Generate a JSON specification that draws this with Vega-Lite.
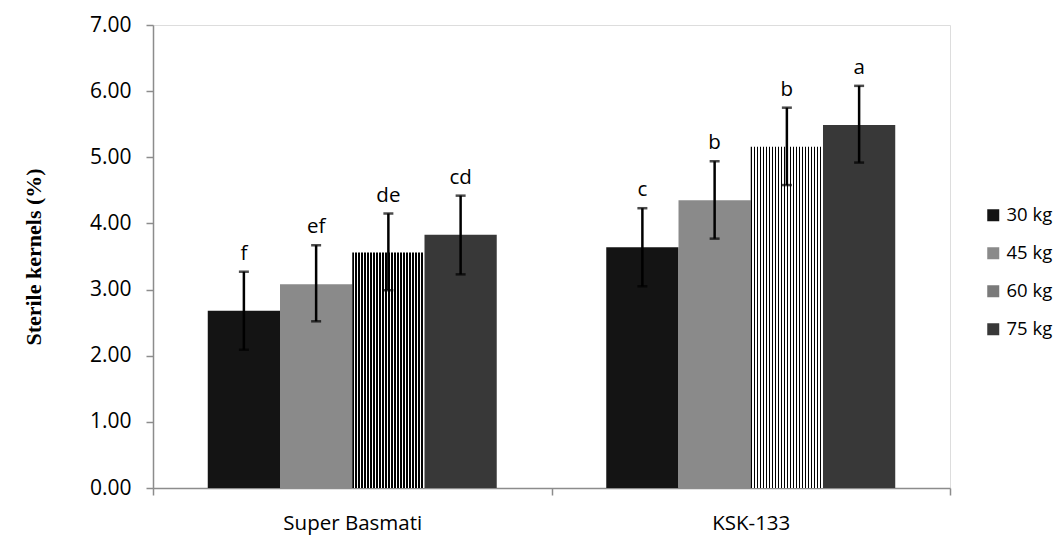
{
  "$schema": "https://vega.github.io/schema/vega-lite/v6.json",
  "width": 797,
  "height": 463,
  "autosize": {"type": "none"},
  "padding": {"left": 153, "top": 25, "right": 109, "bottom": 47},
  "background": "white",
  "data": {
    "values": [
      {"variety": "Super Basmati", "dose": "30 kg", "mean": 2.68, "lo": 2.09, "hi": 3.27, "letter": "f"},
      {"variety": "Super Basmati", "dose": "45 kg", "mean": 3.08, "lo": 2.52, "hi": 3.67, "letter": "ef"},
      {"variety": "Super Basmati", "dose": "60 kg", "mean": 3.56, "lo": 2.99, "hi": 4.15, "letter": "de"},
      {"variety": "Super Basmati", "dose": "75 kg", "mean": 3.83, "lo": 3.23, "hi": 4.42, "letter": "cd"},
      {"variety": "KSK-133", "dose": "30 kg", "mean": 3.64, "lo": 3.05, "hi": 4.23, "letter": "c"},
      {"variety": "KSK-133", "dose": "45 kg", "mean": 4.35, "lo": 3.77, "hi": 4.94, "letter": "b"},
      {"variety": "KSK-133", "dose": "60 kg", "mean": 5.16, "lo": 4.58, "hi": 5.75, "letter": "b"},
      {"variety": "KSK-133", "dose": "75 kg", "mean": 5.49, "lo": 4.92, "hi": 6.08, "letter": "a"}
    ]
  },
  "encoding": {
    "x": {
      "field": "variety",
      "type": "nominal",
      "sort": ["Super Basmati", "KSK-133"],
      "scale": {"paddingInner": 0, "paddingOuter": 0},
      "axis": {
        "title": null,
        "labelAngle": 0,
        "labelFont": "Open Sans",
        "labelFontSize": 20.5,
        "labelColor": "#000000",
        "labelPadding": 18,
        "tickBand": "extent",
        "tickSize": 7,
        "tickColor": "#8c8c8c",
        "domainColor": "#8c8c8c",
        "domainWidth": 1.5,
        "tickWidth": 1.5
      }
    },
    "xOffset": {
      "field": "dose",
      "type": "nominal",
      "sort": ["30 kg", "45 kg", "60 kg", "75 kg"],
      "scale": {"paddingInner": 0, "paddingOuter": 0.758}
    }
  },
  "layer": [
    {
      "mark": {"type": "bar"},
      "encoding": {
        "y": {
          "field": "mean",
          "type": "quantitative",
          "scale": {"domain": [0, 7], "nice": false},
          "axis": {
            "title": "Sterile kernels (%)",
            "titleFont": "Liberation Serif",
            "titleFontSize": 22,
            "titleFontWeight": "bold",
            "titleColor": "#000000",
            "titlePadding": 44,
            "values": [0, 1, 2, 3, 4, 5, 6, 7],
            "format": ".2f",
            "grid": false,
            "labelFont": "Open Sans",
            "labelFontSize": 21,
            "labelColor": "#000000",
            "labelPadding": 15,
            "tickSize": 7,
            "tickColor": "#8c8c8c",
            "domainColor": "#8c8c8c",
            "domainWidth": 1.5,
            "tickWidth": 1.5
          }
        },
        "fill": {
          "condition": {
            "test": "datum.dose === '60 kg'",
            "value": {
              "gradient": "linear", "x1": 0, "y1": 0, "x2": 1, "y2": 0,
              "stops": [
                {"offset": 0.0, "color": "#000000"}, {"offset": 0.0208, "color": "#000000"}, {"offset": 0.0208, "color": "#ffffff"}, {"offset": 0.0417, "color": "#ffffff"},
                {"offset": 0.0417, "color": "#000000"}, {"offset": 0.0625, "color": "#000000"}, {"offset": 0.0625, "color": "#ffffff"}, {"offset": 0.0833, "color": "#ffffff"},
                {"offset": 0.0833, "color": "#000000"}, {"offset": 0.1042, "color": "#000000"}, {"offset": 0.1042, "color": "#ffffff"}, {"offset": 0.125, "color": "#ffffff"},
                {"offset": 0.125, "color": "#000000"}, {"offset": 0.1458, "color": "#000000"}, {"offset": 0.1458, "color": "#ffffff"}, {"offset": 0.1667, "color": "#ffffff"},
                {"offset": 0.1667, "color": "#000000"}, {"offset": 0.1875, "color": "#000000"}, {"offset": 0.1875, "color": "#ffffff"}, {"offset": 0.2083, "color": "#ffffff"},
                {"offset": 0.2083, "color": "#000000"}, {"offset": 0.2292, "color": "#000000"}, {"offset": 0.2292, "color": "#ffffff"}, {"offset": 0.25, "color": "#ffffff"},
                {"offset": 0.25, "color": "#000000"}, {"offset": 0.2708, "color": "#000000"}, {"offset": 0.2708, "color": "#ffffff"}, {"offset": 0.2917, "color": "#ffffff"},
                {"offset": 0.2917, "color": "#000000"}, {"offset": 0.3125, "color": "#000000"}, {"offset": 0.3125, "color": "#ffffff"}, {"offset": 0.3333, "color": "#ffffff"},
                {"offset": 0.3333, "color": "#000000"}, {"offset": 0.3542, "color": "#000000"}, {"offset": 0.3542, "color": "#ffffff"}, {"offset": 0.375, "color": "#ffffff"},
                {"offset": 0.375, "color": "#000000"}, {"offset": 0.3958, "color": "#000000"}, {"offset": 0.3958, "color": "#ffffff"}, {"offset": 0.4167, "color": "#ffffff"},
                {"offset": 0.4167, "color": "#000000"}, {"offset": 0.4375, "color": "#000000"}, {"offset": 0.4375, "color": "#ffffff"}, {"offset": 0.4583, "color": "#ffffff"},
                {"offset": 0.4583, "color": "#000000"}, {"offset": 0.4792, "color": "#000000"}, {"offset": 0.4792, "color": "#ffffff"}, {"offset": 0.5, "color": "#ffffff"},
                {"offset": 0.5, "color": "#000000"}, {"offset": 0.5208, "color": "#000000"}, {"offset": 0.5208, "color": "#ffffff"}, {"offset": 0.5417, "color": "#ffffff"},
                {"offset": 0.5417, "color": "#000000"}, {"offset": 0.5625, "color": "#000000"}, {"offset": 0.5625, "color": "#ffffff"}, {"offset": 0.5833, "color": "#ffffff"},
                {"offset": 0.5833, "color": "#000000"}, {"offset": 0.6042, "color": "#000000"}, {"offset": 0.6042, "color": "#ffffff"}, {"offset": 0.625, "color": "#ffffff"},
                {"offset": 0.625, "color": "#000000"}, {"offset": 0.6458, "color": "#000000"}, {"offset": 0.6458, "color": "#ffffff"}, {"offset": 0.6667, "color": "#ffffff"},
                {"offset": 0.6667, "color": "#000000"}, {"offset": 0.6875, "color": "#000000"}, {"offset": 0.6875, "color": "#ffffff"}, {"offset": 0.7083, "color": "#ffffff"},
                {"offset": 0.7083, "color": "#000000"}, {"offset": 0.7292, "color": "#000000"}, {"offset": 0.7292, "color": "#ffffff"}, {"offset": 0.75, "color": "#ffffff"},
                {"offset": 0.75, "color": "#000000"}, {"offset": 0.7708, "color": "#000000"}, {"offset": 0.7708, "color": "#ffffff"}, {"offset": 0.7917, "color": "#ffffff"},
                {"offset": 0.7917, "color": "#000000"}, {"offset": 0.8125, "color": "#000000"}, {"offset": 0.8125, "color": "#ffffff"}, {"offset": 0.8333, "color": "#ffffff"},
                {"offset": 0.8333, "color": "#000000"}, {"offset": 0.8542, "color": "#000000"}, {"offset": 0.8542, "color": "#ffffff"}, {"offset": 0.875, "color": "#ffffff"},
                {"offset": 0.875, "color": "#000000"}, {"offset": 0.8958, "color": "#000000"}, {"offset": 0.8958, "color": "#ffffff"}, {"offset": 0.9167, "color": "#ffffff"},
                {"offset": 0.9167, "color": "#000000"}, {"offset": 0.9375, "color": "#000000"}, {"offset": 0.9375, "color": "#ffffff"}, {"offset": 0.9583, "color": "#ffffff"},
                {"offset": 0.9583, "color": "#000000"}, {"offset": 0.9792, "color": "#000000"}, {"offset": 0.9792, "color": "#ffffff"}, {"offset": 1.0, "color": "#ffffff"}
              ]
            }
          },
          "field": "dose",
          "type": "nominal",
          "sort": ["30 kg", "45 kg", "60 kg", "75 kg"],
          "scale": {"domain": ["30 kg", "45 kg", "60 kg", "75 kg"], "range": ["#141414", "#8a8a8a", "#7a7a7a", "#383838"]},
          "legend": {
            "title": null,
            "orient": "none",
            "legendX": 831,
            "legendY": 181,
            "symbolType": "square",
            "symbolSize": 144,
            "symbolStrokeWidth": 0,
            "labelFont": "Open Sans",
            "labelFontSize": 18.5,
            "labelColor": "#000000",
            "labelOffset": 4,
            "rowPadding": 19
          }
        }
      }
    },
    {
      "mark": {"type": "rule", "color": "#000000", "strokeWidth": 2.5},
      "encoding": {
        "y": {"field": "lo", "type": "quantitative"},
        "y2": {"field": "hi"}
      }
    },
    {
      "mark": {"type": "tick", "color": "#000000", "thickness": 2.5, "size": 10, "orient": "horizontal"},
      "encoding": {
        "y": {"field": "hi", "type": "quantitative"}
      }
    },
    {
      "mark": {"type": "tick", "color": "#000000", "thickness": 2.5, "size": 10, "orient": "horizontal"},
      "encoding": {
        "y": {"field": "lo", "type": "quantitative"}
      }
    },
    {
      "mark": {"type": "text", "font": "Open Sans", "fontSize": 20.5, "color": "#000000", "baseline": "alphabetic", "dy": -12},
      "encoding": {
        "y": {"field": "hi", "type": "quantitative"},
        "text": {"field": "letter"}
      }
    }
  ]
}
